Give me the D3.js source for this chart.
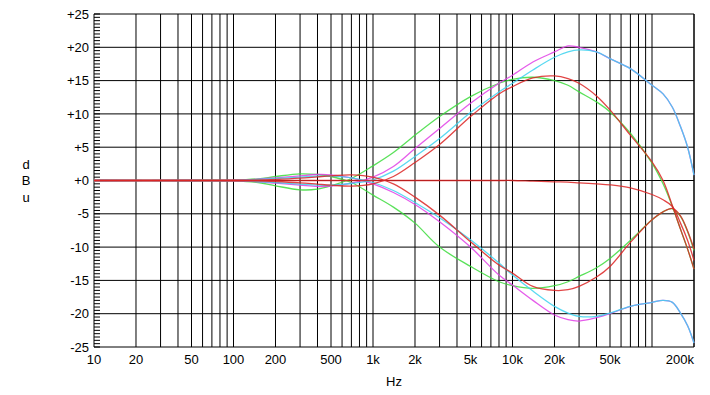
<!DOCTYPE html>
<meta charset="utf-8">
<head>
  <title>Response</title>
</head>
<style>

body {
  margin: 0;
  background: #fff;
}

text {
  font-family: "Liberation Sans", Arial, sans-serif;
  font-size: 13px;
  fill: #000;
}

.grid line {
  stroke: #000;
  stroke-width: 1px;
}

.curve {
  fill: none;
  stroke-width: 1.3px;
}

</style>
<body>
<script src="https://d3js.org/d3.v7.min.js"></script>
<script>
var width = 710,
  height = 395

var freqs = [10, 50, 100, 150, 200, 300, 400, 500, 700, 1000, 1400, 2000, 3000, 5000, 8000, 10000,
  14000, 20000, 25000, 30000, 40000, 50000, 70000, 100000, 120000, 140000, 160000, 180000, 200000]

// dB values, one per frequency above
var greenBoost = [0, 0, -0.05, -0.3, -0.8, -1.4, -1.3, -0.8, 0.3, 2.2, 4.2, 6.8, 9.6, 12.6, 14.6, 15.2,
  15.5, 15.0, 14.3, 13.3, 11.8, 10.3, 7.1, 2.6, -0.5, -3.9, -7.3, -10.3, -13.3]
var greenCut = [0, 0, 0.05, 0.25, 0.6, 1.0, 0.9, 0.6, -0.3, -2.2, -4.0, -6.4, -10, -12.9, -15.2, -15.8,
  -16.2, -15.8, -15.2, -14.4, -13.1, -11.7, -9.0, -5.9, -4.7, -4.25, -5.4, -7.7, -10.5]
var magentaBoost = [0, 0, -0.05, -0.2, -0.4, -0.7, -0.9, -0.85, -0.4, 0.5, 2.1, 4.8, 7.8, 11.6, 14.6, 15.8,
  17.8, 19.3, 20.2, 20.0, 19.3, 18.3, 16.8, 14.3, 13.0, 11.0, 8.1, 5.0, 0.8]
var magentaCut = [0, 0, 0.05, 0.2, 0.4, 0.7, 0.9, 0.85, 0.4, -0.5, -1.8, -3.6, -6.2, -10, -14.2, -15.7,
  -18.0, -20.2, -20.9, -21.1, -20.6, -20.0, -18.9, -18.3, -18.0, -18.3, -19.9, -21.8, -24.4]
var cyanBoost = [0, 0, -0.03, -0.15, -0.3, -0.55, -0.7, -0.7, -0.45, 0.1, 1.4, 3.6, 6.3, 10.2, 13.3, 14.6,
  16.6, 18.5, 19.3, 19.6, 19.3, 18.3, 16.8, 14.3, 13.0, 11.0, 8.1, 5.0, 0.8]
var cyanCut = [0, 0, 0.03, 0.15, 0.3, 0.5, 0.65, 0.65, 0.4, -0.3, -1.5, -3.3, -5.6, -8.9, -12.4, -14.2,
  -16.6, -18.9, -19.9, -20.4, -20.4, -19.9, -18.9, -18.3, -18.0, -18.3, -19.9, -21.8, -24.4]
var redBoost = [0, 0, 0, -0.05, -0.15, -0.35, -0.55, -0.7, -0.85, -0.5, 0.6, 2.7, 5.4, 9.6, 13.0, 14.1,
  15.4, 15.7, 15.3, 14.6, 12.7, 10.6, 6.8, 2.8, 0, -3.8, -7.3, -10.3, -13.3]
var redCut = [0, 0, 0, 0.05, 0.15, 0.35, 0.55, 0.7, 0.85, 0.5, -0.5, -2.5, -5.2, -9.2, -12.7, -13.9,
  -15.9, -16.5, -16.4, -15.9, -14.5, -12.9, -9.3, -5.9, -4.7, -4.2, -5.3, -7.6, -10.3]
var redFlat = [0, 0, 0, 0, 0, 0, 0, 0, 0, 0, 0, 0, 0, 0, 0, 0,
  -0.1, -0.2, -0.25, -0.35, -0.5, -0.65, -1.1, -2.1, -2.9, -3.9, -6.4, -9.0, -12.0]

var xTicks = [10, 20, 50, 100, 200, 500, 1000, 2000, 5000, 10000, 20000, 50000, 200000]
var xTickLabels = ["10", "20", "50", "100", "200", "500", "1k", "2k", "5k", "10k", "20k", "50k", "200k"]
var yTicks = [25, 20, 15, 10, 5, 0, -5, -10, -15, -20, -25]
var yTickLabels = ["+25", "+20", "+15", "+10", "+5", "+0", "-5", "-10", "-15", "-20", "-25"]

var series = [
  {name: "greenBoost", values: greenBoost, color: "#3ddc3d"},
  {name: "greenCut", values: greenCut, color: "#3ddc3d"},
  {name: "magentaBoost", values: magentaBoost, color: "#e040e6"},
  {name: "magentaCut", values: magentaCut, color: "#e040e6"},
  {name: "cyanBoost", values: cyanBoost, color: "#3cd2ee"},
  {name: "cyanCut", values: cyanCut, color: "#3cd2ee"},
  {name: "redBoost", values: redBoost, color: "#dc2424"},
  {name: "redCut", values: redCut, color: "#dc2424"},
  {name: "redFlat", values: redFlat, color: "#dc2424"}
]

var x = d3.scaleLog()
  .domain([10, 200000])
  .range([94, 694])

var y = d3.scaleLinear()
  .domain([-25, 25])
  .range([347, 14])

var svg = d3.select("body").append("svg")
    .attr("width", width)
    .attr("height", height)

// vertical grid, one line per 1..9 multiple of each decade
var gridFreqs = []
for (var dec = 10; dec <= 100000; dec *= 10) {
  for (var m = 1; m <= 9; m++) {
    if (dec * m <= 200000) gridFreqs.push(dec * m)
  }
}
gridFreqs.push(200000)

var grid = svg.append("g").attr("class", "grid")

grid.selectAll(".vline")
    .data(gridFreqs)
  .enter().append("line")
    .attr("class", "vline")
    .attr("x1", function(d) { return x(d) })
    .attr("x2", function(d) { return x(d) })
    .attr("y1", y(25))
    .attr("y2", y(-25))

grid.selectAll(".hline")
    .data(yTicks)
  .enter().append("line")
    .attr("class", "hline")
    .attr("x1", x(10))
    .attr("x2", x(200000))
    .attr("y1", function(d) { return y(d) })
    .attr("y2", function(d) { return y(d) })

// half-dB minor ticks along the left edge
grid.selectAll(".minor")
    .data(d3.range(-25, 25.01, 0.5))
  .enter().append("line")
    .attr("class", "minor")
    .attr("x1", x(10))
    .attr("x2", x(10) + 6)
    .attr("y1", function(d) { return y(d) })
    .attr("y2", function(d) { return y(d) })

// curves
var line = d3.line()
  .x(function(d) { return x(d.f) })
  .y(function(d) { return y(d.v) })
  .curve(d3.curveCatmullRom.alpha(0.5))

var curves = svg.append("g")

curves.selectAll(".curve")
    .data(series)
  .enter().append("path")
    .attr("class", "curve")
    .attr("stroke", function(d) { return d.color })
    .attr("stroke-opacity", 0.85)
    .attr("d", function(d) {
      return line(d.values.map(function(v, i) { return {f: freqs[i], v: v} }))
    })

// tick labels
svg.selectAll(".ylabel")
    .data(yTicks)
  .enter().append("text")
    .attr("class", "ylabel")
    .attr("x", 89)
    .attr("y", function(d) { return y(d) })
    .attr("dy", "0.36em")
    .style("text-anchor", "end")
    .text(function(d, i) { return yTickLabels[i] })

svg.selectAll(".xlabel")
    .data(xTicks)
  .enter().append("text")
    .attr("class", "xlabel")
    .attr("x", function(d) { return x(d) })
    .attr("y", 364)
    .style("text-anchor", function(d, i) { return i == xTicks.length - 1 ? "end" : "middle" })
    .text(function(d, i) { return xTickLabels[i] })

svg.append("text")
    .attr("x", 394)
    .attr("y", 386)
    .style("text-anchor", "middle")
    .text("Hz")

svg.selectAll(".unit")
    .data(["d", "B", "u"])
  .enter().append("text")
    .attr("class", "unit")
    .attr("x", 26)
    .attr("y", function(d, i) { return 168.5 + i * 16.7 })
    .style("text-anchor", "middle")
    .text(function(d) { return d })

</script>
</body>
</html>
